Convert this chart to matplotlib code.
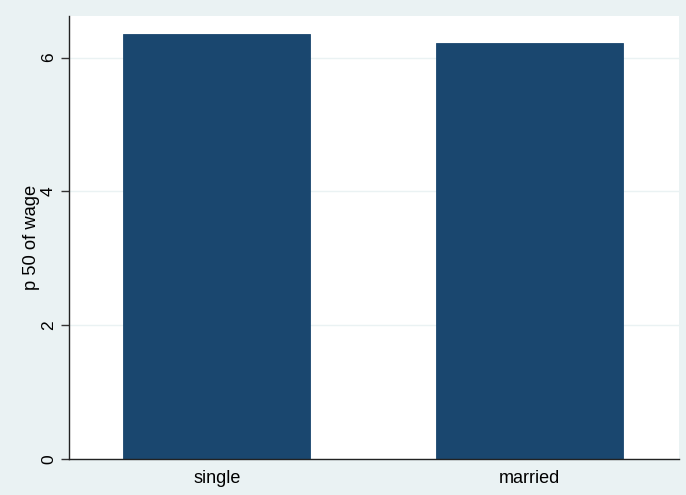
import matplotlib
matplotlib.use("Agg")
import matplotlib.pyplot as plt

# median wage by marital status
categories = ["single", "married"]
p50_wage = [6.355, 6.215]
yticks = [0, 2, 4, 6]

plt.rcParams['font.family'] = ['Liberation Sans', 'DejaVu Sans']

bg = "#EAF2F3"
navy = "#1A476F"

fig = plt.figure(figsize=(6.86, 4.95), dpi=100, facecolor=bg)
ax = fig.add_axes([68.5/686, 1 - 459.3/495, (679 - 68.5)/686, (459.3 - 16)/495])
ax.set_facecolor("white")

x = range(len(categories))
ax.bar(x, p50_wage, width=0.597, color=navy, edgecolor=navy, linewidth=0.6, zorder=2)

ax.set_xlim(-0.474, 1.478)
ax.set_ylim(0, 6.62)
ax.set_yticks(yticks)
ax.set_yticklabels([str(t) for t in yticks], rotation=90, va="center", fontsize=12.5)
ax.set_xticks(list(x))
ax.set_xticklabels(categories, fontsize=13)
ax.tick_params(axis="x", length=0, pad=8)
ax.tick_params(axis="y", length=6, width=1, color="#333333", pad=3)
ax.set_ylabel("p 50 of wage", fontsize=13.2)
ax.yaxis.set_label_coords(-0.046, 0.5)

ax.grid(axis="y", color=bg, linewidth=1, zorder=1)
ax.set_axisbelow(True)
for s in ["top", "right"]:
    ax.spines[s].set_visible(False)
for s in ["left", "bottom"]:
    ax.spines[s].set_color("#222222")
    ax.spines[s].set_linewidth(1)

fig.savefig("out.png", dpi=100, facecolor=bg)
